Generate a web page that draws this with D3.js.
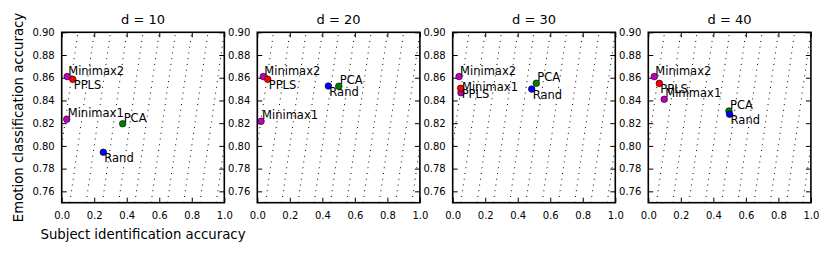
<!DOCTYPE html>
<html>
<head>
<meta charset="utf-8">
<script src="https://cdn.jsdelivr.net/npm/d3@7"></script>
<style>
  body { margin: 0; background: #fff; }
  text { font-family: "DejaVu Sans", sans-serif; }
</style>
</head>
<body>
<div class="segment"></div>
<script>
// data
var panelTitles = ["d = 10", "d = 20", "d = 30", "d = 40"];
var methods = ["Minimax1", "Minimax2", "PPLS", "PCA", "Rand"];

// subject identification accuracy, one row per d
var subjectAcc = [
  [0.031, 0.034, 0.068, 0.375, 0.256],
  [0.023, 0.037, 0.064, 0.501, 0.437],
  [0.051, 0.039, 0.049, 0.514, 0.486],
  [0.098, 0.037, 0.068, 0.496, 0.500]
];
// emotion classification accuracy, one row per d
var emotionAcc = [
  [0.8234, 0.861, 0.8586, 0.8195, 0.7944],
  [0.8217, 0.861, 0.8586, 0.8525, 0.8527],
  [0.8468, 0.861, 0.8507, 0.8551, 0.8500],
  [0.8410, 0.861, 0.8550, 0.8307, 0.8278]
];

var xTicks = [0.0, 0.2, 0.4, 0.6, 0.8, 1.0];
var yTicks = [0.76, 0.78, 0.80, 0.82, 0.84, 0.86, 0.88, 0.90];
// reference lines: emotion - subject = c
var diagOffsets = [0.9, 0.8, 0.7, 0.6, 0.5, 0.4, 0.3, 0.2, 0.1, 0.0, -0.1, -0.2];

// styles
var colors = {"Minimax1": "#bf00bf", "Minimax2": "#bf00bf", "PPLS": "#ff0000", "PCA": "#008000", "Rand": "#0000ff"};
var labelBelow = {"Minimax1": false, "Minimax2": false, "PPLS": true, "PCA": false, "Rand": true};

var width = 831, height = 254;
var panelW = 162.6, panelH = 170.4;
var panelLeft = [61.7, 257.3, 452.7, 648.3];
var panelTop = 32.3;

var svg1 = d3.select(".segment")
          .append("svg")
          .attr("width", width)
          .attr("height", height);

svg1.append("rect")
  .attr("width", "100%")
  .attr("height", "100%")
  .attr("fill", "#fff");

var x = d3.scaleLinear().domain([0, 1]).range([0, panelW]);
var y = d3.scaleLinear().domain([0.75, 0.90]).range([panelH, 0]);

panelTitles.forEach(function(title, p) {
  var g = svg1.append("g")
    .attr("transform", "translate(" + panelLeft[p] + "," + panelTop + ")");

  g.append("clipPath").attr("id", "clip" + p)
    .append("rect").attr("width", panelW).attr("height", panelH);

  // dotted diagonal reference lines
  g.append("g").attr("clip-path", "url(#clip" + p + ")")
    .selectAll("line")
    .data(diagOffsets)
    .enter()
    .append("line")
    .attr("x1", function(c) { return x(0.75 - c); })
    .attr("y1", function(c) { return y(0.75); })
    .attr("x2", function(c) { return x(0.90 - c); })
    .attr("y2", function(c) { return y(0.90); })
    .attr("stroke", "#000")
    .attr("stroke-width", 1)
    .attr("stroke-dasharray", "1,4.8");

  // axes, ticks pointing inward on all four sides
  var tickFmtX = d3.format(".1f"), tickFmtY = d3.format(".2f");
  var bottom = g.append("g").attr("transform", "translate(0," + panelH + ")")
    .call(d3.axisBottom(x).tickValues(xTicks).tickSize(-5).tickPadding(9).tickFormat(tickFmtX));
  var top = g.append("g")
    .call(d3.axisTop(x).tickValues(xTicks).tickSize(-5).tickFormat(""));
  var left = g.append("g")
    .call(d3.axisLeft(y).tickValues(yTicks).tickSize(-5).tickPadding(7).tickFormat(tickFmtY));
  var right = g.append("g").attr("transform", "translate(" + panelW + ",0)")
    .call(d3.axisRight(y).tickValues(yTicks).tickSize(-5).tickFormat(""));

  [bottom, top, left, right].forEach(function(a) {
    a.select(".domain").remove();
    a.selectAll(".tick line").attr("stroke", "#000").attr("stroke-width", 1);
    a.selectAll(".tick text").attr("fill", "#000").style("font-size", "10px")
      .style("font-family", "DejaVu Sans, sans-serif");
  });

  g.append("rect")
    .attr("width", panelW)
    .attr("height", panelH)
    .attr("fill", "none")
    .attr("stroke", "#000")
    .attr("stroke-width", 1.6);

  var pts = methods.map(function(m, i) {
    return {name: m, sx: subjectAcc[p][i], ey: emotionAcc[p][i]};
  });

  g.selectAll("circle")
    .data(pts)
    .enter()
    .append("circle")
    .attr("cx", function(d) { return x(d.sx); })
    .attr("cy", function(d) { return y(d.ey); })
    .attr("r", 3.3)
    .attr("fill", function(d) { return colors[d.name]; })
    .attr("stroke", "#000")
    .attr("stroke-width", 0.6);

  g.selectAll("text.lbl")
    .data(pts)
    .enter()
    .append("text")
    .attr("class", "lbl")
    .attr("x", function(d) { return x(d.sx) + 1; })
    .attr("y", function(d) { return y(d.ey) + (labelBelow[d.name] ? 9.5 : -2); })
    .style("font-size", "11.5px")
    .text(function(d) { return d.name; });

  g.append("text")
    .attr("x", panelW / 2)
    .attr("y", -8)
    .attr("text-anchor", "middle")
    .style("font-size", "13px")
    .text(title);
});

svg1.append("text")
  .attr("x", panelLeft[0] + panelW / 2)
  .attr("y", 239)
  .attr("text-anchor", "middle")
  .style("font-size", "13.3px")
  .text("Subject identification accuracy");

svg1.append("text")
  .attr("transform", "translate(23," + (panelTop + panelH / 2) + ") rotate(-90)")
  .attr("text-anchor", "middle")
  .style("font-size", "13.3px")
  .text("Emotion classification accuracy");
</script>
</body>
</html>
